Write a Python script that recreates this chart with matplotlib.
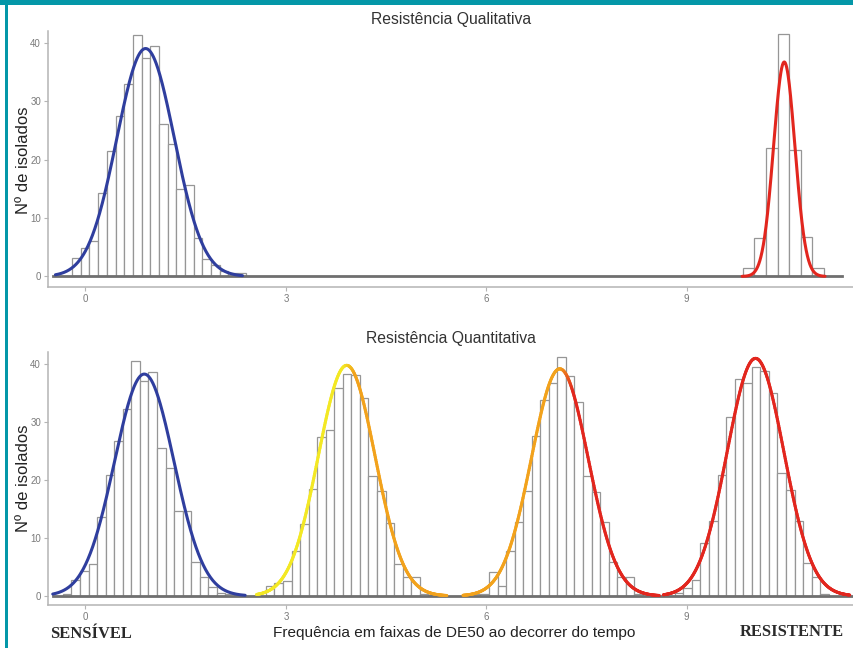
import numpy as np
import matplotlib
matplotlib.use("Agg")
import matplotlib.pyplot as plt
from matplotlib.collections import LineCollection
from matplotlib.patches import Rectangle
from matplotlib.colors import to_rgb

# ---------------- data ----------------
# Top panel (Resistência Qualitativa) histograms: left edge of first bin, bin width, counts
qual_sens_start = -0.20
qual_sens_width = 0.13
qual_sens_counts = [3.1, 4.9, 6.1, 14.3, 21.4, 27.4, 32.9, 41.3, 37.4, 39.4,
                    26.1, 22.6, 15.0, 15.6, 6.6, 2.9, 2.0, 0.9, 0.6, 0.6]
qual_res_start = 9.84
qual_res_width = 0.173
qual_res_counts = [1.5, 6.6, 21.9, 41.5, 21.7, 6.7, 1.5]

# Bottom panel (Resistência Quantitativa) histograms
quant_width = 0.128
quant_starts = [-0.338, 2.70, 5.656, 8.822]
quant_counts = [
    [0.3, 2.7, 4.3, 5.5, 13.6, 20.9, 26.6, 32.2, 40.4, 37.0, 38.6, 25.4, 22.1,
     14.7, 14.7, 5.9, 3.2, 1.5, 0.5, 0.3, 0.2],
    [1.7, 2.2, 2.6, 7.8, 12.4, 18.4, 27.3, 28.6, 35.8, 38.2, 38.0, 34.1, 20.7,
     18.0, 12.6, 5.5, 3.2, 3.3, 0.3, 0.2, 0.2],
    [0.2, 0.3, 0.3, 4.2, 1.8, 7.8, 12.8, 18.0, 27.6, 33.7, 36.6, 41.2, 37.8,
     33.4, 20.7, 17.9, 12.7, 5.8, 3.3, 3.3, 0.3],
    [0.5, 1.4, 2.8, 9.1, 12.9, 20.8, 30.8, 37.3, 36.7, 39.5, 38.8, 34.9, 21.1,
     18.2, 12.9, 5.6, 3.3, 0.3],
]

# Fitted normal curves: mean, sd, peak height, x-range drawn
qual_curves = [  # (mean, sd, peak, xmin, xmax)
    (0.90, 0.43, 39.0, -0.45, 2.35),
    (10.46, 0.16, 36.7, 9.83, 11.07),
]
qual_curve_colors = ["#2f3e9e", "#e2261e"]
quant_curves = [
    (0.88, 0.445, 38.2, -0.49, 2.39),
    (3.91, 0.425, 39.7, 2.56, 5.41),
    (7.10, 0.425, 39.1, 5.65, 8.59),
    (10.03, 0.425, 40.9, 8.65, 11.44),
]
# colour along x for the quantitative resistance curves (blue one is plain)
grad_x = [3.88, 4.03, 7.12, 7.30]
grad_colors = ["#f3e824", "#f2a21c", "#f2a21c", "#e2261e"]

xticks = [0, 3, 6, 9]
yticks = [0, 10, 20, 30, 40]

# ---------------- drawing ----------------
W, H = 854, 648
fig = plt.figure(figsize=(W / 100, H / 100), dpi=100)
fig.patch.set_facecolor("white")

def px_axes(l, t, r, b):
    return fig.add_axes([l / W, 1 - b / H, (r - l) / W, (b - t) / H])

ax1 = px_axes(48, 31, 854, 287)
ax2 = px_axes(48, 352, 854, 605)

xlim = (-0.561, 11.504)
ax1.set_xlim(*xlim)
ax2.set_xlim(*xlim)
ax1.set_ylim(-1.81, 42.0)
ax2.set_ylim(-1.55, 42.0)

bar_kw = dict(align="edge", facecolor="white", edgecolor="#969696", linewidth=0.9, zorder=2)

def hist(ax, start, width, counts):
    lefts = start + width * np.arange(len(counts))
    ax.bar(lefts, counts, width=width, **bar_kw)

def curve(mean, sd, peak, lo, hi):
    x = np.linspace(lo, hi, 400)
    y = peak * np.exp(-0.5 * ((x - mean) / sd) ** 2)
    return x, y

hist(ax1, qual_sens_start, qual_sens_width, qual_sens_counts)
hist(ax1, qual_res_start, qual_res_width, qual_res_counts)
for s, c in zip(quant_starts, quant_counts):
    hist(ax2, s, quant_width, c)

# zero baselines (empty bins)
ax1.axhline(0, xmin=0.006, xmax=0.985, color="#6f6f6f", lw=2.0, zorder=3)
ax2.axhline(0, xmin=0.006, xmax=1.0, color="#6f6f6f", lw=2.0, zorder=3)

for (m, s, p, lo, hi), col in zip(qual_curves, qual_curve_colors):
    x, y = curve(m, s, p, lo, hi)
    ax1.plot(x, y, color=col, lw=2.2, zorder=4, solid_capstyle="round")

grad_rgb = np.array([to_rgb(c) for c in grad_colors])
for i, (m, s, p, lo, hi) in enumerate(quant_curves):
    x, y = curve(m, s, p, lo, hi)
    if i == 0:
        ax2.plot(x, y, color=qual_curve_colors[0], lw=2.2, zorder=4, solid_capstyle="round")
        continue
    pts = np.column_stack([x, y]).reshape(-1, 1, 2)
    segs = np.concatenate([pts[:-1], pts[1:]], axis=1)
    xm = 0.5 * (x[:-1] + x[1:])
    cols = np.column_stack([np.interp(xm, grad_x, grad_rgb[:, k]) for k in range(3)])
    lc = LineCollection(segs, colors=cols, linewidths=2.2, zorder=4, capstyle="round")
    ax2.add_collection(lc)

for ax in (ax1, ax2):
    for sp in ("top", "right"):
        ax.spines[sp].set_visible(False)
    for sp in ("left", "bottom"):
        ax.spines[sp].set_color("#b4b4b4")
        ax.spines[sp].set_linewidth(1.1)
    ax.set_xticks(xticks)
    ax.set_yticks(yticks)
    ax.tick_params(axis="both", colors="#b4b4b4", labelcolor="#7a7a7a",
                   labelsize=7, length=3, width=0.8, pad=2)
    for lab in ax.get_xticklabels() + ax.get_yticklabels():
        lab.set_family("Liberation Sans")
    ax.set_facecolor("none")

sans = "Liberation Sans"
fig.text(451 / W, 1 - 19.5 / H, "Resistência Qualitativa", ha="center", va="center",
         fontsize=11.3, color="#333333", family=sans)
fig.text(451 / W, 1 - 339 / H, "Resistência Quantitativa", ha="center", va="center",
         fontsize=11.3, color="#333333", family=sans)
fig.text(24 / W, 1 - 160 / H, "Nº de isolados", rotation=90, ha="center", va="center",
         fontsize=12, color="#222222", family=sans)
fig.text(24 / W, 1 - 478 / H, "Nº de isolados", rotation=90, ha="center", va="center",
         fontsize=12, color="#222222", family=sans)
fig.text(454 / W, 1 - 633 / H, "Frequência em faixas de DE50 ao decorrer do tempo",
         ha="center", va="center", fontsize=11.1, color="#222222", family=sans)
fig.text(50 / W, 1 - 634 / H, "SENSÍVEL", ha="left", va="center", fontweight="bold",
         fontsize=11.9, color="#2a2a2a", family="Liberation Serif")
fig.text(740 / W, 1 - 632 / H, "RESISTENTE", ha="left", va="center", fontweight="bold",
         fontsize=11.9, color="#2a2a2a", family="Liberation Serif")

# teal frame
teal = "#0497a8"
fig.patches.append(Rectangle((0, 1 - 5 / H), 1, 5 / H, transform=fig.transFigure,
                             facecolor=teal, edgecolor="none", zorder=10))
fig.patches.append(Rectangle((5 / W, 0), 3 / W, 1, transform=fig.transFigure,
                             facecolor=teal, edgecolor="none", zorder=10))

fig.savefig("out.png", dpi=100)
